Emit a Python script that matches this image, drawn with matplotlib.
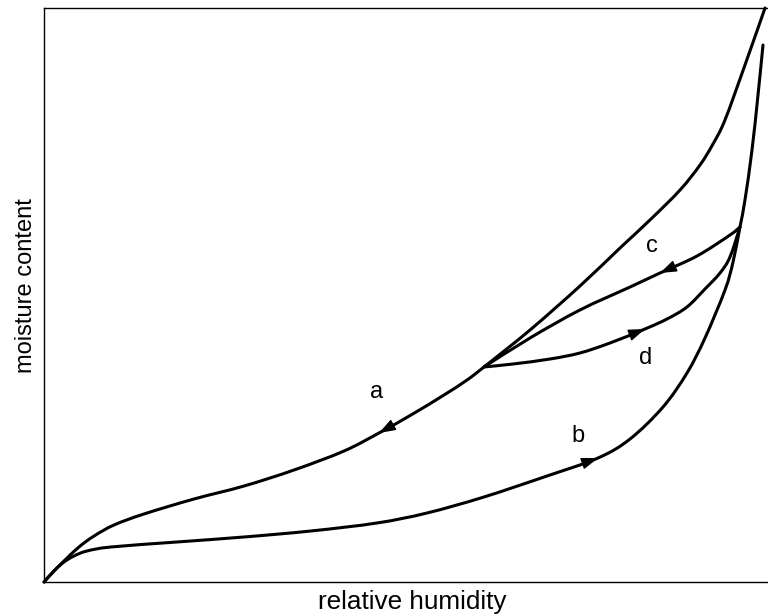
import matplotlib
matplotlib.use("Agg")
import matplotlib.pyplot as plt
from matplotlib.path import Path
from matplotlib.patches import PathPatch

plt.rcParams['font.family'] = ['Liberation Sans', 'DejaVu Sans']

# desorption curve (a), relative humidity % vs moisture content %
desorp_x = [0, 1.38, 2.76, 4.83, 6.91, 9.67, 13.81, 20.72, 27.62, 34.53, 41.44, 46.27,
            50.69, 55.25, 58.43, 60.77, 67.13, 74.03, 79.56, 83.70, 87.85, 90.61,
            92.40, 94.06, 96.82, 99.59]
desorp_y = [0, 1.92, 3.66, 6.10, 8.01, 9.93, 11.85, 14.46, 16.72, 19.51, 22.82, 25.96,
            29.09, 32.58, 35.19, 37.46, 43.90, 51.57, 58.19, 63.07, 68.29, 72.65,
            76.31, 80.49, 90.07, 100.0]

# adsorption curve (b)
adsorp_x = [0, 1.38, 2.76, 4.14, 5.94, 9.25, 18.37, 27.62, 36.88, 45.99, 52.90, 60.77,
            69.48, 76.52, 80.94, 85.50, 88.81, 91.30, 94.06, 95.17, 96.13, 96.82,
            97.79, 98.62, 99.31]
adsorp_y = [0, 1.92, 3.48, 4.53, 5.40, 6.10, 6.97, 7.84, 8.89, 10.28, 12.02, 14.81,
            18.47, 21.60, 24.91, 30.49, 36.41, 42.51, 50.87, 55.75, 61.85, 66.55,
            75.26, 84.84, 93.55]

# scanning desorption curve (c)
scan_c_x = [60.77, 67.13, 74.03, 80.94, 85.08, 90.19, 94.75, 96.13]
scan_c_y = [37.46, 42.51, 47.39, 51.39, 53.83, 56.79, 60.45, 61.85]

# scanning adsorption curve (d)
scan_d_x = [60.77, 64.78, 69.89, 74.03, 78.18, 83.01, 86.05, 88.81, 91.30, 93.37,
            94.75, 96.13]
scan_d_y = [37.46, 37.98, 38.85, 39.90, 41.64, 44.08, 45.82, 47.91, 51.05, 53.83,
            56.62, 61.85]

curve_labels = ['a', 'b', 'c', 'd']
label_x = [46.0, 73.76, 83.98, 83.15]
label_y = [33.1, 25.44, 58.54, 39.02]

fig = plt.figure(figsize=(7.68, 6.16), dpi=100)
W, H = 768, 616
ax = fig.add_axes([44 / W, (H - 582) / H, 736 / W, 574 / H])
ax.set_xlim(0, 100 * 736 / 724)
ax.set_ylim(0, 100)

lw = 2.2


def smooth_path(xs, ys):
    # Catmull-Rom spline through the points, rendered as cubic Bezier segments
    pts = list(zip(xs, ys))
    n = len(pts)
    verts = [pts[0]]
    codes = [Path.MOVETO]
    for i in range(n - 1):
        p0 = pts[i - 1] if i > 0 else pts[i]
        p1 = pts[i]
        p2 = pts[i + 1]
        p3 = pts[i + 2] if i + 2 < n else pts[i + 1]
        c1 = (p1[0] + (p2[0] - p0[0]) / 6, p1[1] + (p2[1] - p0[1]) / 6)
        c2 = (p2[0] - (p3[0] - p1[0]) / 6, p2[1] - (p3[1] - p1[1]) / 6)
        verts += [c1, c2, p2]
        codes += [Path.CURVE4] * 3
    return Path(verts, codes)


for xs, ys in [(desorp_x, desorp_y), (adsorp_x, adsorp_y),
               (scan_c_x, scan_c_y), (scan_d_x, scan_d_y)]:
    ax.add_patch(PathPatch(smooth_path(xs, ys), facecolor='none', edgecolor='black',
                           lw=lw, capstyle='round', joinstyle='round', clip_on=False))


def arrow(xs, ys, i, j):
    # arrow head at point i, pointing along the curve from neighbour j towards i
    tx = xs[i] + 0.35 * (xs[j] - xs[i])
    ty = ys[i] + 0.35 * (ys[j] - ys[i])
    ax.annotate('', xy=(xs[i], ys[i]), xytext=(tx, ty),
                arrowprops=dict(arrowstyle='-|>,head_length=0.85,head_width=0.3',
                                color='black', lw=1.0, mutation_scale=12,
                                shrinkA=0, shrinkB=0))


arrow(desorp_x, desorp_y, 11, 12)
arrow(adsorp_x, adsorp_y, 13, 12)
arrow(scan_c_x, scan_c_y, 4, 5)
arrow(scan_d_x, scan_d_y, 5, 4)

for t, x, y in zip(curve_labels, label_x, label_y):
    ax.text(x, y, t, fontsize=17, ha='center', va='center')

ax.set_xticks([])
ax.set_yticks([])
for s in ['top', 'left', 'bottom']:
    ax.spines[s].set_linewidth(1.0)
ax.spines['right'].set_visible(False)

fig.text(412 / W, 1 - 602 / H, 'relative humidity', fontsize=18.8, ha='center', va='center')
fig.text(26 / W, 1 - 286 / H, 'moisture content', fontsize=17, ha='center', va='center',
         rotation=90)

fig.savefig('out.png', dpi=100)
